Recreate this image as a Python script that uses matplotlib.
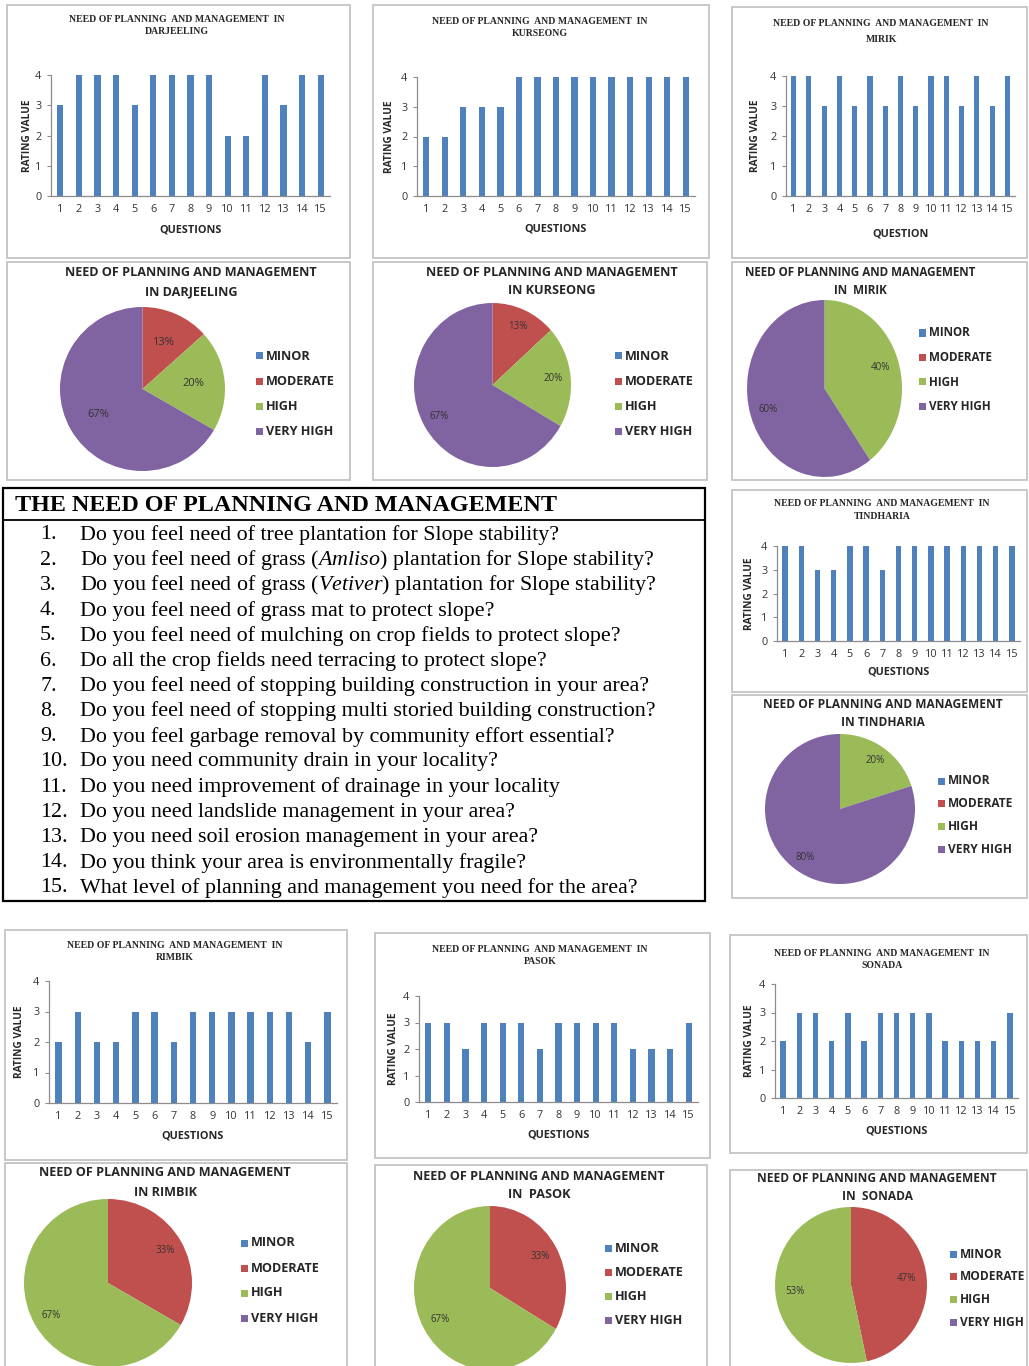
import matplotlib
matplotlib.use("Agg")
import matplotlib.pyplot as plt
from matplotlib.patches import Rectangle
from matplotlib.lines import Line2D

plt.rcParams['mathtext.fontset'] = 'custom'
plt.rcParams['mathtext.rm'] = 'Liberation Serif'
plt.rcParams['mathtext.it'] = 'Liberation Serif:italic'

# ---- data -------------------------------------------------------------
questions = list(range(1, 16))
darjeeling = [3, 4, 4, 4, 3, 4, 4, 4, 4, 2, 2, 4, 3, 4, 4]
kurseong = [2, 2, 3, 3, 3, 4, 4, 4, 4, 4, 4, 4, 4, 4, 4]
mirik = [4, 4, 3, 4, 3, 4, 3, 4, 3, 4, 4, 3, 4, 3, 4]
tindharia = [4, 4, 3, 3, 4, 4, 3, 4, 4, 4, 4, 4, 4, 4, 4]
rimbik = [2, 3, 2, 2, 3, 3, 2, 3, 3, 3, 3, 3, 3, 2, 3]
pasok = [3, 3, 2, 3, 3, 3, 2, 3, 3, 3, 3, 2, 2, 2, 3]
sonada = [2, 3, 3, 2, 3, 2, 3, 3, 3, 3, 2, 2, 2, 2, 3]

rating_levels = [1, 2, 3, 4]
level_names = ["MINOR", "MODERATE", "HIGH", "VERY HIGH"]
rating_ticks = [0, 1, 2, 3, 4]

question_texts = [
    "Do you feel need of tree plantation for Slope stability?",
    r"Do you feel need of grass ($\mathit{Amliso)}$ plantation for Slope stability?",
    r"Do you feel need of grass ($\mathit{Vetiver)}$ plantation for Slope stability?",
    "Do you feel need of grass mat to protect slope?",
    "Do you feel need of mulching on crop fields to protect slope?",
    "Do all the crop fields need terracing to protect slope?",
    "Do you feel need of stopping building construction in your area?",
    "Do you feel need of stopping multi storied building construction?",
    "Do you feel garbage removal by community effort essential?",
    "Do you need community drain in your locality?",
    "Do you need improvement of drainage in your locality",
    "Do you need landslide management in your area?",
    "Do you need soil erosion management in your area?",
    "Do you think your area is environmentally fragile?",
    "What level of planning and management you need for the area?",
]

# ---- styling ------------------------------------------------------------
BAR_BLUE = "#4F81BD"
PIE_COLORS = ["#4F81BD", "#C0504D", "#9BBB59", "#8064A2"]
AXIS_GREY = "#8c8c8c"
FRAME_GREY = "#c4c4c4"
SANS = "Open Sans"
SERIF = "Liberation Serif"

W, H = 1029, 1366
fig = plt.figure(figsize=(W / 100, H / 100), dpi=100)
fig.patch.set_facecolor("white")


def fbox(x0, y0, x1, y1):
    return [x0 / W, 1 - y1 / H, (x1 - x0) / W, (y1 - y0) / H]


def ftext(x, y, s, **kw):
    return fig.text(x / W, 1 - y / H, s, **kw)


def frame(x0, y0, x1, y1, color=FRAME_GREY, lw=1.3):
    fig.add_artist(Rectangle((x0 / W, 1 - y1 / H), (x1 - x0) / W, (y1 - y0) / H,
                             transform=fig.transFigure, fill=False,
                             edgecolor=color, linewidth=lw))


def bar_panel(place, values, axbox, title_pos, xlabel, xlabel_y, ylabel_x):
    ax = fig.add_axes(fbox(*axbox))
    ax.bar(questions, values, width=0.34, color=BAR_BLUE, zorder=2)
    ax.set_xlim(0.5, 15.5)
    ax.set_ylim(0, 4)
    ax.set_xticks(questions)
    ax.set_yticks(rating_ticks)
    for side in ("top", "right"):
        ax.spines[side].set_visible(False)
    for side in ("left", "bottom"):
        ax.spines[side].set_color(AXIS_GREY)
        ax.spines[side].set_linewidth(0.9)
    ax.tick_params(axis="x", length=0, pad=6, labelsize=7.8, labelcolor="#333333")
    ax.tick_params(axis="y", length=3, color=AXIS_GREY, pad=4, labelsize=7.8,
                   labelcolor="#333333")
    for lab in ax.get_xticklabels() + ax.get_yticklabels():
        lab.set_family(SANS)
    tx, ty1, ty2 = title_pos
    ftext(tx, ty1, "NEED OF PLANNING  AND MANAGEMENT  IN", ha="center", va="center",
          family=SERIF, fontweight="bold", fontsize=7.0, color="#262626")
    ftext(tx, ty2, place, ha="center", va="center",
          family=SERIF, fontweight="bold", fontsize=7.0, color="#262626")
    cx = (axbox[0] + axbox[2]) / 2
    cy = (axbox[1] + axbox[3]) / 2
    ftext(cx, xlabel_y, xlabel, ha="center", va="center", family=SANS,
          fontweight="bold", fontsize=7.8, color="#262626")
    ftext(ylabel_x, cy, "RATING VALUE", ha="center", va="center", rotation=90,
          family=SANS, fontweight="bold", fontsize=7.3, color="#262626")
    return ax


def pct_label(p):
    return f"{p:.0f}%" if p > 0.5 else ""


def pie_panel(place, values, ellipse, title_pos, legend_pos, pctdist,
              label_size=7, text_size=9.1):
    counts = [values.count(r) for r in rating_levels]
    ax = fig.add_axes(fbox(*ellipse))
    ax.pie(counts, colors=PIE_COLORS, startangle=90, counterclock=False,
           autopct=pct_label, pctdistance=pctdist, radius=1,
           wedgeprops=dict(linewidth=0),
           textprops=dict(fontsize=label_size, family=SANS, color="#333333"))
    ax.set_aspect("auto")
    ax.set_xlim(-1, 1)
    ax.set_ylim(-1, 1)
    ax.axis("off")
    tx, ty1, ty2 = title_pos
    ftext(tx, ty1, "NEED OF PLANNING AND MANAGEMENT", ha="center", va="center",
          family=SANS, fontweight="bold", fontsize=text_size, color="#262626")
    ftext(tx, ty2, place, ha="center", va="center",
          family=SANS, fontweight="bold", fontsize=text_size, color="#262626")
    lx, ly0, dy = legend_pos
    for i, name in enumerate(level_names):
        y = ly0 + i * dy
        fig.add_artist(Rectangle(((lx - 7) / W, 1 - (y + 3.5) / H), 7 / W, 7 / H,
                                 transform=fig.transFigure, facecolor=PIE_COLORS[i],
                                 edgecolor="none"))
        ftext(lx + 3, y, name, ha="left", va="center", family=SANS,
              fontweight="bold", fontsize=text_size, color="#262626")
    return ax


# ---- panel frames ---------------------------------------------------------
for b in [(7, 5, 350, 258), (373, 5, 709, 258), (732, 7, 1027, 258),
          (7, 262, 350, 480), (373, 262, 707, 480), (732, 262, 1027, 480),
          (732, 490, 1027, 692), (732, 695, 1027, 898),
          (5, 930, 347, 1160), (375, 933, 710, 1158), (730, 935, 1027, 1153),
          (5, 1163, 347, 1370), (375, 1165, 707, 1370), (730, 1170, 1027, 1370)]:
    frame(*b)

# ---- bar charts -----------------------------------------------------------
bar_panel("DARJEELING", darjeeling, (51, 75, 330, 196), (177, 20, 31),
          "QUESTIONS", 230, 27)
bar_panel("KURSEONG", kurseong, (417, 77, 695, 196), (540, 21, 34),
          "QUESTIONS", 229, 389)
bar_panel("MIRIK", mirik, (786, 76, 1015, 196), (881, 24, 39),
          "QUESTION", 234, 756)
bar_panel("TINDHARIA", tindharia, (777, 546, 1020, 641), (882, 504, 516),
          "QUESTIONS", 672, 750)
bar_panel("RIMBIK", rimbik, (49, 981, 337, 1103), (175, 945, 958),
          "QUESTIONS", 1136, 20)
bar_panel("PASOK", pasok, (419, 996, 698, 1102), (540, 949, 962),
          "QUESTIONS", 1135, 393)
bar_panel("SONADA", sonada, (775, 984, 1018, 1098), (882, 953, 966),
          "QUESTIONS", 1131, 750)

# ---- pie charts -----------------------------------------------------------
pie_panel("IN DARJEELING", darjeeling, (60, 307, 225, 471), (191, 273, 292),
          (263, 356, 25.3), 0.62, label_size=8)
pie_panel("IN KURSEONG", kurseong, (414, 303, 571, 467), (552, 273, 291),
          (622, 356, 25.3), 0.78)
pie_panel("IN  MIRIK", mirik, (747, 300, 902, 477), (860, 272, 290),
          (926, 333, 24.5), 0.76, text_size=8.4)
pie_panel("IN TINDHARIA", tindharia, (765, 734, 915, 884), (883, 705, 722),
          (945, 781, 22.7), 0.8, text_size=8.6)
pie_panel("IN RIMBIK", rimbik, (24, 1199, 192, 1367), (165, 1173, 1192),
          (248, 1243, 25), 0.78)
pie_panel("IN  PASOK", pasok, (414, 1206, 566, 1370), (539, 1176, 1194),
          (612, 1248, 24.3), 0.76)
pie_panel("IN  SONADA", sonada, (775, 1207, 927, 1363), (877, 1179, 1196),
          (957, 1254, 22.7), 0.74, text_size=8.6)

# ---- question list --------------------------------------------------------
frame(3, 488, 705, 901, color="black", lw=1.6)
fig.add_artist(Line2D([3 / W, 705 / W], [1 - 520 / H, 1 - 520 / H],
                      transform=fig.transFigure, color="black", linewidth=1.3))
ftext(15, 505, "THE NEED OF PLANNING AND MANAGEMENT", ha="left", va="center",
      family=SERIF, fontweight="bold", fontsize=17.4, color="black")
for i, q in enumerate(question_texts):
    y = 535 + i * 25.2
    ftext(40, y, f"{questions[i]}.", ha="left", va="center", family=SERIF,
          fontsize=15.8, color="black")
    ftext(80, y, q, ha="left", va="center", family=SERIF, fontsize=15.8,
          color="black")

fig.savefig("out.png", dpi=100, facecolor="white")
